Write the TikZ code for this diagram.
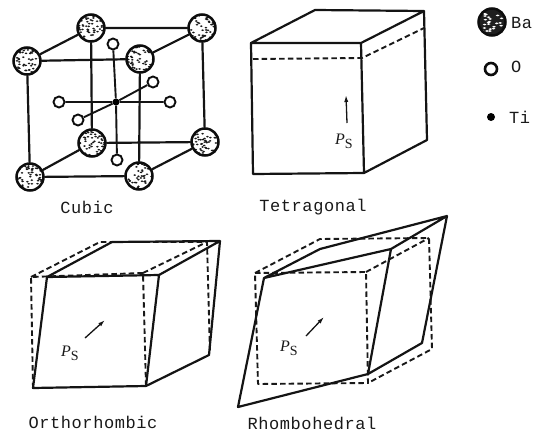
\documentclass[tikz,border=0pt]{standalone}
\usepackage{fontspec}
\usetikzlibrary{arrows.meta}
\setmainfont{Liberation Mono}
\newfontfamily\capfont[LetterSpace=3.5]{Liberation Mono}
\newfontfamily\psfont{Liberation Serif}
\newcommand{\psym}{{\fontsize{16}{16}\selectfont\psfont\itshape P\raisebox{-4pt}{\upshape\fontsize{14}{14}\selectfont S}}}
\pgfmathsetseed{4217}
\tikzset{
  ink/.style={draw=black!92, line width=2.2pt, line join=round, line cap=round},
  thinink/.style={draw=black!92, line width=1.9pt},
  dashink/.style={draw=black!90, line width=1.9pt, dash pattern=on 5.5pt off 3.2pt, line join=round},
  ba/.style={circle, draw=black!95, line width=2.5pt, fill=white, minimum size=27pt, inner sep=0pt,
    path picture={
      \foreach \i in {1,...,52}{
        \fill[black!90] (path picture bounding box.center) ++(rnd*26-13,rnd*26-13) ellipse (1.4 and 0.9);
      }
    }},
  badark/.style={circle, draw=black!95, line width=2.5pt, fill=black!88, minimum size=27pt, inner sep=0pt,
    path picture={
      \foreach \i in {1,...,22}{
        \fill[white] (path picture bounding box.center) ++(rnd*20-10,rnd*20-10) ellipse (1.9 and 0.9);
      }
    }},
  ox/.style={circle, draw=black!95, line width=1.9pt, fill=white, minimum size=11pt, inner sep=0pt},
  oxleg/.style={circle, draw=black!95, line width=2.6pt, fill=white, minimum size=12pt, inner sep=0pt},
  tidot/.style={circle, fill=black, minimum size=#1, inner sep=0pt},
  captext/.style={font=\capfont\fontsize{17}{17}\selectfont, inner sep=0pt, text=black!90},
  pslab/.style={inner sep=0pt, text=black!90},
  polar/.style={draw=black!92, line width=1.3pt, -{Latex[length=7pt,width=4.2pt]}},
}
\begin{document}
\begin{tikzpicture}[x=1pt,y=-1pt]
\useasboundingbox (0,0) rectangle (541,431);
% Cubic
\node[ba] (btl) at (91,28) {};
\node[ba] (btr) at (202,28) {};
\node[ba] (ftl) at (27,61) {};
\node[ba] (ftr) at (140,59) {};
\node[ba] (bbl) at (92,143) {};
\node[ba] (bbr) at (205,142) {};
\node[ba] (fbl) at (30,177) {};
\node[ba] (fbr) at (139,176) {};
\node[ox] (ot) at (113,44) {};
\node[ox] (ob) at (117,160) {};
\node[ox] (ol) at (59,102) {};
\node[ox] (or) at (170,102) {};
\node[ox] (obk) at (153,82) {};
\node[ox] (ofr) at (78,120) {};
\node[tidot=7pt] (ti) at (116,102) {};
\draw[ink] (btl)--(btr) (btl)--(ftl) (btr)--(ftr) (ftl)--(ftr)
  (btl)--(bbl) (btr)--(bbr) (ftl)--(fbl) (ftr)--(fbr)
  (bbl)--(bbr) (bbl)--(fbl) (bbr)--(fbr) (fbl)--(fbr);
\draw[thinink] (ot)--(ti) (ti)--(ob) (ol)--(ti) (ti)--(or) (obk)--(ti) (ti)--(ofr);
\node[captext] (lcubic) at (87,207) {Cubic};
% Tetragonal
\coordinate (ta) at (251,43); \coordinate (tb) at (361,43);
\coordinate (tc) at (315,10); \coordinate (td) at (424,11);
\coordinate (te) at (253,174); \coordinate (tf) at (364,173);
\coordinate (tg) at (427,140);
\coordinate (th) at (253,59); \coordinate (ti2) at (362,58); \coordinate (tj) at (424,28);
\draw[ink] (ta)--(tb)--(tf)--(te)--cycle (ta)--(tc)--(td)--(tb) (td)--(tg)--(tf);
\draw[dashink] (th)--(ti2)--(tj);
\coordinate (tp0) at (347,123); \coordinate (tp1) at (346,95);
\draw[polar] (tp0)--(tp1);
\node[pslab] (tps) at (344,141) {\psym};
\node[captext] (ltet) at (313,207) {Tetragonal};
% Legend
\node[badark] (lba) at (492,22) {};
\node[captext, anchor=west] (tba) at (511,23) {Ba};
\node[oxleg] (lo) at (491,69) {};
\node[captext, anchor=west] (tox) at (511,67) {O};
\node[tidot=8pt] (lti) at (491,117) {};
\node[captext, anchor=west] (tti) at (509,117) {Ti};
% Orthorhombic
\coordinate (oa) at (47,277); \coordinate (ob2) at (159,275);
\coordinate (oc) at (146,386); \coordinate (od) at (33,388);
\coordinate (oe) at (112,242); \coordinate (of) at (220,241); \coordinate (og) at (209,355);
\coordinate (oh) at (31,277); \coordinate (oi) at (143,273);
\coordinate (oj) at (100,242); \coordinate (ok) at (207,242); \coordinate (ol2) at (210,353);
\draw[dashink] (od)--(oh)--(oi)--(oc) (oh)--(oj)--(ok)--(ol2) (oi)--(ok);
\draw[ink] (oa)--(ob2)--(oc)--(od)--cycle (oa)--(oe)--(of)--(ob2) (of)--(og)--(oc);
\coordinate (op0) at (85,338); \coordinate (op1) at (105,320);
\draw[polar] (op0)--(op1);
\node[pslab] (ops) at (70,353) {\psym};
\node[captext] (lort) at (93,422) {Orthorhombic};
% Rhombohedral
\coordinate (ra) at (264,278); \coordinate (rb) at (391,249);
\coordinate (rc) at (368,374); \coordinate (rd) at (238,407);
\coordinate (re) at (320,249); \coordinate (rf) at (447,216); \coordinate (rg) at (422,343);
\coordinate (rh) at (255,273); \coordinate (ri) at (366,272);
\coordinate (rj) at (368,383); \coordinate (rk) at (258,384);
\coordinate (rl) at (320,239); \coordinate (rm) at (429,238); \coordinate (rn) at (432,349);
\draw[dashink] (rh)--(ri)--(rj)--(rk)--cycle (rh)--(rl)--(rm)--(rn)--(rj) (ri)--(rm);
\draw[ink] (ra)--(rb)--(rc)--(rd)--cycle (ra)--(re)--(rf)--(rb) (rf)--(rg)--(rc);
\coordinate (rp0) at (306,336); \coordinate (rp1) at (324,317);
\draw[polar] (rp0)--(rp1);
\node[pslab] (rps) at (289,348) {\psym};
\node[captext] (lrho) at (312,423) {Rhombohedral};
\end{tikzpicture}
\end{document}
